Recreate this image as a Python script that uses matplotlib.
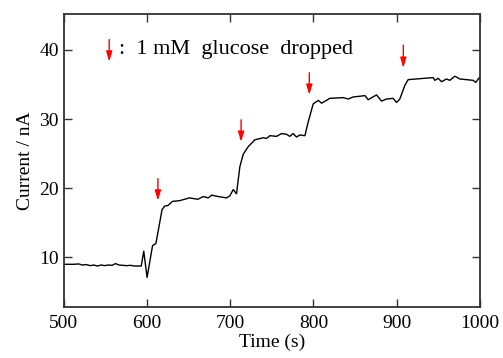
import matplotlib.pyplot as plt

time_s = [500, 505, 512, 518, 522, 527, 532, 536, 540, 545, 549, 553, 558, 562,
          566, 571, 575, 580, 585, 590, 593, 596, 600, 606.6, 610.6, 618, 621, 625,
          630.6, 639, 651, 661, 667.5, 673.5, 677.5, 685.5, 695.5, 699.5, 703.5,
          707.5, 711.5, 715.5, 721.5, 729.6, 739.6, 743.6, 747.6, 755.6, 761.6,
          767.6, 771.6, 775.6, 779.6, 783.6, 789.7, 793.7, 799.7, 805.8, 809.8,
          819.7, 835.7, 841.8, 847.8, 855.8, 861.8, 865.8, 875.8, 881.8, 887.8,
          895.8, 899.8, 903.8, 909.9, 913.8, 923.8, 933.9, 943.9, 945.9, 949.9,
          953.9, 959.9, 963.9, 969.9, 975.9, 983.9, 992, 995, 1000]
current_na = [9.0, 9.0, 9.0, 9.05, 8.9, 8.95, 8.8, 8.9, 8.75, 8.9, 8.8, 8.9, 8.85, 9.1,
              8.9, 8.85, 8.8, 8.85, 8.75, 8.75, 8.75, 10.9, 7.1, 11.7, 12.0, 16.9, 17.4, 17.5,
              18.1, 18.2, 18.6, 18.4, 18.8, 18.6, 19.0, 18.8, 18.6, 18.9, 19.8,
              19.2, 23.1, 24.9, 26.0, 27.0, 27.3, 27.2, 27.6, 27.5, 27.9,
              27.8, 27.5, 27.9, 27.4, 27.7, 27.6, 29.6, 32.2, 32.7, 32.3,
              33.0, 33.1, 32.9, 33.2, 33.3, 33.4, 32.8, 33.5, 32.6, 32.9,
              33.0, 32.4, 32.9, 34.9, 35.7, 35.8, 35.9, 36.0, 35.6, 35.9,
              35.4, 35.8, 35.6, 36.2, 35.8, 35.7, 35.6, 35.3, 36.1]

# Glucose drop markers: x, arrow top, arrow tip
drop_x = [613, 713, 795, 908]
drop_top = [21.4, 29.9, 36.7, 40.7]
drop_tip = [18.2, 26.7, 33.5, 37.4]

plt.rcParams["font.family"] = ["Liberation Serif", "DejaVu Serif"]

fig = plt.figure(figsize=(5.03, 3.58), dpi=100)
ax = fig.add_axes([0.127, 0.142, 0.827, 0.819])

ax.plot(time_s, current_na, color="black", linewidth=1.0)

arrow_props = dict(arrowstyle="-|>,head_length=0.6,head_width=0.18",
                   color="red", linewidth=1.0, shrinkA=0, shrinkB=0)
for x, top, tip in zip(drop_x, drop_top, drop_tip):
    ax.annotate("", xy=(x, tip), xytext=(x, top), arrowprops=arrow_props)

# Legend-like note
ax.annotate("", xy=(554.5, 38.3), xytext=(554.5, 41.5), arrowprops=arrow_props)
ax.text(566, 40.0, ":  1 mM  glucose  dropped", fontsize=16, va="center", ha="left")

ax.set_xlim(500, 1000)
ax.set_ylim(2.8, 45.2)
ax.set_xticks([500, 600, 700, 800, 900, 1000])
ax.set_yticks([10, 20, 30, 40])
ax.tick_params(direction="in", top=True, right=True, length=6, width=1.0,
               labelsize=14, colors="#333333", labelcolor="black")
ax.tick_params(axis="x", pad=6)
for sp in ax.spines.values():
    sp.set_linewidth(1.3)
    sp.set_color("#333333")

ax.set_xlabel("Time (s)", fontsize=14, labelpad=1)
ax.set_ylabel("Current / nA", fontsize=14, labelpad=4)

fig.savefig("out.png", dpi=100)
